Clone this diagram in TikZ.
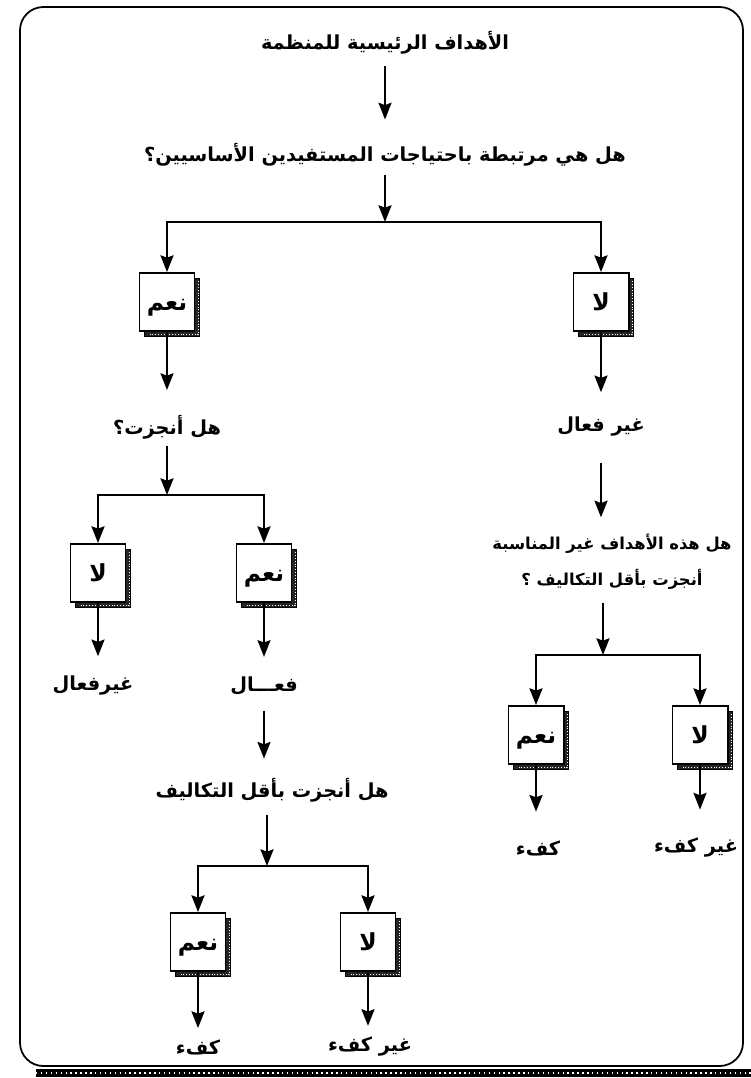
\documentclass[tikz,border=0pt]{standalone}
\usepackage{fontspec}
\usetikzlibrary{arrows.meta}
\usetikzlibrary{shadows}
\newfontfamily\arabicfont[Script=Arabic]{DejaVu Sans}
\TeXXeTstate=1
\newcommand{\artxt}[1]{\arabicfont\bfseries\beginR #1\endR}
\newcommand{\yestxt}{\smash{\raisebox{-2.6mm}{\artxt{نعم}}}}

\begin{document}
\begin{tikzpicture}[x=0.03cm,y=-0.03cm,->,>={Stealth[length=5mm,width=3.9mm,inset=.7mm]},line width=1.8pt,
	txt/.style={inner sep=2pt,font=\fontsize{16.5}{33}\selectfont,align=center},
	ans/.style={draw,fill=white,line width=1.7pt,minimum width=1.65cm,minimum height=1.74cm,inner sep=0pt,
		font=\fontsize{20}{24}\selectfont,
		copy shadow={shadow xshift=1.6mm,shadow yshift=-1.6mm,fill=black!85,draw=black,line width=.6pt}},
	dots/.style={-,white,line width=.8pt,dash pattern=on .8pt off 1.6pt}]
	\useasboundingbox (0,0) rectangle (751,1078);
	\draw[-,line width=1.5pt,rounded corners=7mm] (20,1066) -- (20,7) -- (743,7) -- (743,1066) -- cycle;
	\draw[-,line width=6pt] (36,1073) -- (751,1073);
	\draw[dots,line width=1.2pt,dash pattern=on 1.2pt off 3pt] (36,1073) -- (751,1073);

	\node[txt] (title) at (385,43) {\artxt{الأهداف الرئيسية للمنظمة}};
	\node[txt] (q1) at (385,155) {\artxt{هل هي مرتبطة باحتياجات المستفيدين الأساسيين؟}};
	\coordinate (split1) at (385,222);
	\node[ans] (yes1) at (167,302) {\yestxt};
	\node[ans] (no1) at (601,302) {\artxt{لا}};
	\node[txt] (q2) at (167,427) {\artxt{هل أنجزت؟}};
	\node[txt] (ineff1) at (601,427) {\artxt{غير فعال}};
	\node[txt,font=\fontsize{14}{31}\selectfont] (q3) at (612,562) {\artxt{هل هذه الأهداف غير المناسبة}\\\artxt{أنجزت بأقل التكاليف ؟}};
	\coordinate (split2) at (167,495);
	\node[ans] (no2) at (98,573) {\artxt{لا}};
	\node[ans] (yes2) at (264,573) {\yestxt};
	\node[txt] (ineff2) at (93,686) {\artxt{غيرفعال}};
	\node[txt] (eff2) at (264,686) {\artxt{فعـــال}};
	\node[txt] (q4) at (272,790) {\artxt{هل أنجزت بأقل التكاليف}};
	\coordinate (split4) at (267,866);
	\node[ans] (yes4) at (198,942) {\yestxt};
	\node[ans] (no4) at (368,942) {\artxt{لا}};
	\node[txt] (eff4) at (198,1047) {\artxt{كفء}};
	\node[txt] (ineff4) at (370,1047) {\artxt{غير كفء}};
	\coordinate (split3) at (603,655);
	\node[ans] (yes3) at (536,735) {\yestxt};
	\node[ans] (no3) at (700,735) {\artxt{لا}};
	\node[txt] (eff3) at (538,848) {\artxt{كفء}};
	\node[txt] (ineff3) at (696,848) {\artxt{غير كفء}};

	\foreach \b in {yes1,no1,no2,yes2,yes4,no4,yes3,no3}
		\draw[dots] ([xshift=.85mm,yshift=-2.8mm]\b.north east) -- ([xshift=.85mm,yshift=-.85mm]\b.south east) -- ([xshift=2.8mm,yshift=-.85mm]\b.south west);

	\draw[shorten <=2.5mm,shorten >=6.2mm] (title) -- (q1);
	\draw[shorten <=1.6mm] (q1) -- (split1);
	\draw (split1) -| (yes1);
	\draw (split1) -| (no1);
	\draw[shorten >=6.5mm] (yes1) -- (q2);
	\draw[shorten >=6.5mm] (no1) -- (ineff1);
	\draw[shorten <=1mm] (q2) -- (split2);
	\draw (split2) -| (no2);
	\draw (split2) -| (yes2);
	\draw[shorten >=5mm] (no2) -- (ineff2.north -| no2);
	\draw[shorten >=5mm] (yes2) -- (eff2);
	\draw[shorten <=3.6mm,shorten >=4.8mm] (eff2) -- (q4.north -| eff2);
	\draw[shorten <=2.8mm] (q4.south -| split4) -- (split4);
	\draw (split4) -| (yes4);
	\draw (split4) -| (no4);
	\draw[shorten >=2.4mm] (yes4) -- (eff4);
	\draw[shorten >=2.4mm] (no4) -- (ineff4.north -| no4);
	\draw[shorten <=7mm,shorten >=4mm] (ineff1) -- (q3.north -| ineff1);
	\draw[shorten <=3mm] (q3.south -| split3) -- (split3);
	\draw (split3) -| (yes3);
	\draw (split3) -| (no3);
	\draw[shorten >=7.6mm] (yes3) -- (eff3.north -| yes3);
	\draw[shorten >=7.6mm] (no3) -- (ineff3.north -| no3);
\end{tikzpicture}
\end{document}
